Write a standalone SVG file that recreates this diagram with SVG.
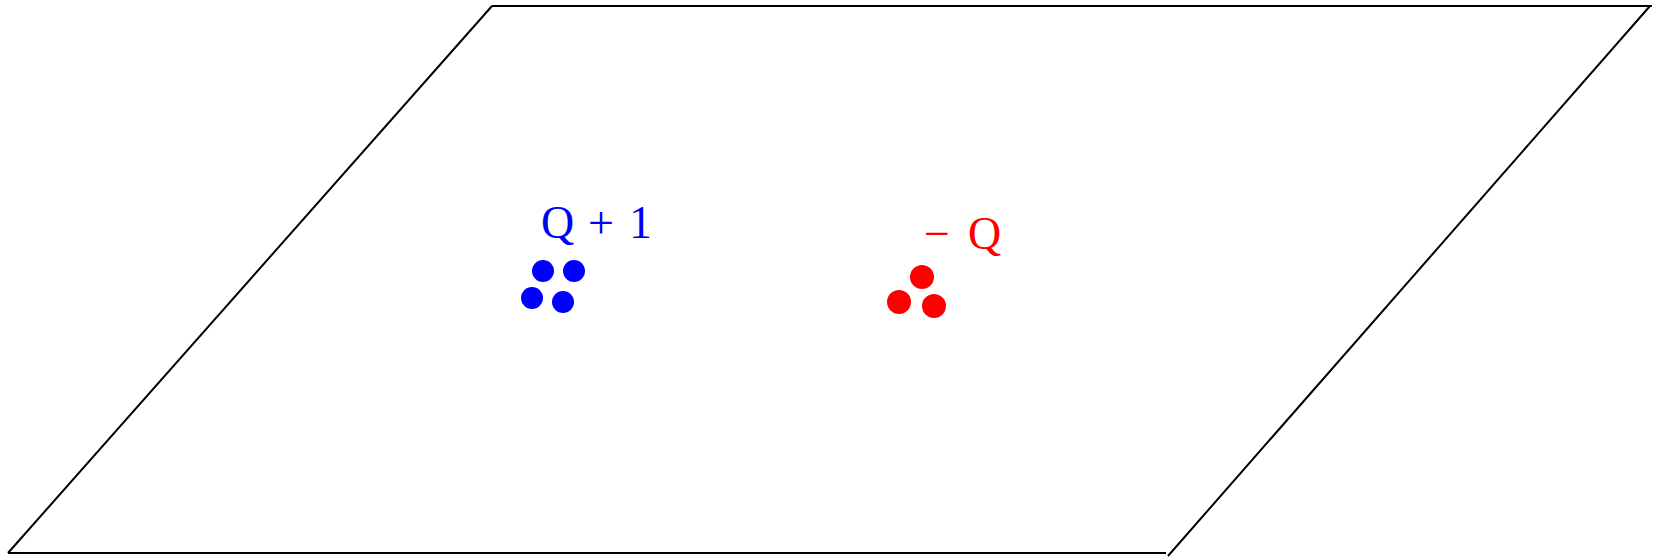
<svg xmlns="http://www.w3.org/2000/svg" width="1653" height="557" viewBox="0 0 1653 557">
<style>
.edge{stroke:#000;stroke-width:2;fill:none;stroke-linecap:butt}
.lbl{font-family:"Liberation Serif","Times New Roman",serif;font-size:46px}
.blue{fill:#0000ff}
.red{fill:#ff0000}
</style>
<rect width="1653" height="557" fill="#fff"/>
<g id="connectors">
<line class="edge" x1="8" y1="553" x2="492" y2="6"/>
<line class="edge" x1="492" y1="6" x2="1652" y2="6"/>
<line class="edge" x1="1650" y1="6" x2="1168" y2="556"/>
<line class="edge" x1="8" y1="553" x2="1166" y2="553"/>
</g>
<g id="positive">
<text class="lbl blue" y="238"><tspan x="541">Q</tspan><tspan x="588">+</tspan><tspan x="629">1</tspan></text>
<circle class="blue" cx="543" cy="271" r="11"/>
<circle class="blue" cx="574" cy="271" r="11"/>
<circle class="blue" cx="532" cy="298" r="11"/>
<circle class="blue" cx="563" cy="302" r="11"/>
</g>
<g id="negative">
<text class="lbl red" y="249"><tspan x="924">−</tspan><tspan x="968">Q</tspan></text>
<circle class="red" cx="922" cy="277" r="12"/>
<circle class="red" cx="899" cy="302" r="12"/>
<circle class="red" cx="934" cy="306" r="12"/>
</g>
</svg>
